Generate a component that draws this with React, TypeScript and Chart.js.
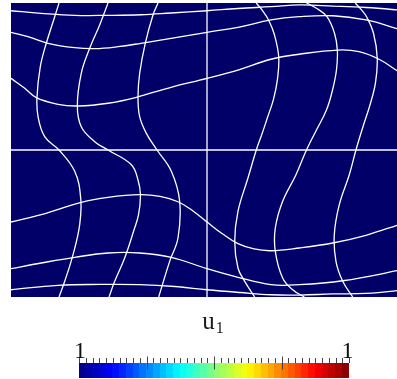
import { useEffect, useRef } from 'react';
import { Chart, registerables } from 'chart.js';

Chart.register(...registerables);

type Pt = [number, number];

// Domain of the field: x in [0, 4], y in [0, 3]
const xRange: Pt = [0, 4];
const yRange: Pt = [0, 3];

// Deformed mesh columns (undeformed x = 0.5, 1, 1.5, 2.5, 3, 3.5), top to bottom
const column05: Pt[] = [
  [0.49, 3.0], [0.446, 2.86], [0.36, 2.589], [0.299, 2.35], [0.265, 2.034], [0.276, 1.84],
  [0.344, 1.636], [0.49, 1.5], [0.65, 1.283], [0.711, 1.01], [0.701, 0.738], [0.633, 0.432],
  [0.548, 0.16], [0.49, 0.0],
];
const column10: Pt[] = [
  [0.99, 3.0], [0.905, 2.776], [0.803, 2.538], [0.717, 2.283], [0.677, 1.949], [0.717, 1.738],
  [0.854, 1.585], [0.99, 1.5], [1.228, 1.35], [1.296, 1.194], [1.321, 1.041], [1.301, 0.837],
  [1.255, 0.684], [1.16, 0.398], [1.058, 0.16], [1.0, 0.0],
];
const column15: Pt[] = [
  [1.5, 3.0], [1.449, 2.878], [1.37, 2.589], [1.313, 2.283], [1.296, 2.044], [1.313, 1.84],
  [1.381, 1.67], [1.49, 1.5], [1.636, 1.283], [1.721, 0.977], [1.704, 0.602], [1.619, 0.364],
  [1.507, 0.0],
];
const column25: Pt[] = [
  [2.503, 3.0], [2.561, 2.929], [2.628, 2.827], [2.689, 2.673], [2.732, 2.449], [2.719, 2.224],
  [2.679, 2.02], [2.612, 1.816], [2.561, 1.663], [2.503, 1.5], [2.418, 1.214], [2.316, 0.874],
  [2.283, 0.568], [2.316, 0.296], [2.385, 0.16], [2.487, 0.0],
];
const column30: Pt[] = [
  [3.015, 3.0], [3.112, 2.949], [3.224, 2.86], [3.301, 2.691], [3.33, 2.52], [3.321, 2.316],
  [3.281, 2.112], [3.219, 1.908], [3.117, 1.704], [3.015, 1.5], [2.908, 1.248], [2.772, 0.977],
  [2.697, 0.704], [2.697, 0.466], [2.772, 0.194], [2.874, 0.074], [2.993, 0.0],
];
const column35: Pt[] = [
  [3.513, 3.0], [3.577, 2.929], [3.628, 2.86], [3.699, 2.691], [3.737, 2.439], [3.719, 2.184],
  [3.663, 1.959], [3.597, 1.755], [3.52, 1.5], [3.452, 1.248], [3.35, 0.942], [3.299, 0.636],
  [3.316, 0.364], [3.385, 0.16], [3.487, 0.0],
];

// Deformed mesh rows, left to right
const row1: Pt[] = [
  [0, 2.921], [0.306, 2.895], [0.65, 2.874], [0.99, 2.874], [1.327, 2.88], [1.633, 2.898],
  [2.0, 2.921], [2.316, 2.944], [2.653, 2.962], [2.949, 2.98], [3.286, 2.969], [3.622, 2.954],
  [3.939, 2.929], [4.0, 2.921],
];
const row2: Pt[] = [
  [0, 2.701], [0.173, 2.656], [0.378, 2.589], [0.65, 2.544], [0.854, 2.534], [1.092, 2.554],
  [1.327, 2.589], [1.633, 2.64], [2.0, 2.701], [2.316, 2.752], [2.653, 2.827], [2.939, 2.86],
  [3.286, 2.87], [3.622, 2.827], [3.929, 2.742], [4.0, 2.714],
];
const row3: Pt[] = [
  [0, 2.231], [0.14, 2.13], [0.258, 2.034], [0.48, 1.966], [0.684, 1.949], [0.99, 1.977],
  [1.279, 2.038], [1.633, 2.14], [2.0, 2.231], [2.316, 2.316], [2.653, 2.426], [2.939, 2.477],
  [3.337, 2.52], [3.551, 2.503], [3.755, 2.426], [3.929, 2.316], [4.0, 2.265],
];
const row5: Pt[] = [
  [0, 0.765], [0.309, 0.84], [0.717, 0.966], [0.99, 1.017], [1.313, 1.044], [1.52, 1.026],
  [1.704, 0.972], [1.857, 0.878], [2.0, 0.765], [2.153, 0.648], [2.316, 0.544], [2.48, 0.49],
  [2.653, 0.472], [2.942, 0.5], [3.283, 0.551], [3.622, 0.63], [3.939, 0.732], [4.0, 0.755],
];
const row6: Pt[] = [
  [0, 0.289], [0.309, 0.347], [0.65, 0.405], [0.99, 0.449], [1.313, 0.449], [1.636, 0.405],
  [2.0, 0.289], [2.316, 0.201], [2.653, 0.126], [2.942, 0.126], [3.385, 0.166], [3.939, 0.268],
  [4.0, 0.286],
];
const row7: Pt[] = [
  [0, 0.074], [0.48, 0.119], [0.908, 0.128], [1.313, 0.126], [1.673, 0.107], [2.0, 0.074],
  [2.337, 0.046], [2.653, 0.023], [2.949, 0.02], [3.283, 0.031], [3.622, 0.036], [3.939, 0.064],
  [4.0, 0.077],
];

// Symmetry lines of the mesh stay straight
const centerColumn: Pt[] = [[2, 0], [2, 3]];
const centerRow: Pt[] = [[0, 1.5], [4, 1.5]];

const meshCurves: Pt[][] = [
  column05, column10, column15, column25, column30, column35,
  row1, row2, row3, row5, row6, row7,
];
const straightLines: Pt[][] = [centerColumn, centerRow];

// Colour bar: field name, end labels and tick layout
const fieldName = 'u';
const fieldIndex = '1';
const colorbarLabels = ['1', '1'];
const colorbarIntervals = 40;
const colorbarMajorEvery = 10;
const colorbarBands = 40;

const FIELD_COLOR = 'rgb(0,0,104)';
const SERIF = '"Liberation Serif", "DejaVu Serif", serif';

function jet(t: number): string {
  const c = (v: number) => Math.round(255 * Math.max(0, Math.min(1, v)));
  const r = c(1.5 - Math.abs(4 * t - 3));
  const g = c(1.5 - Math.abs(4 * t - 2));
  const b = c(1.5 - Math.abs(4 * t - 1));
  return `rgb(${r},${g},${b})`;
}

const fieldBackground = {
  id: 'fieldBackground',
  beforeDatasetsDraw(chart: Chart) {
    const { ctx, chartArea } = chart;
    ctx.save();
    ctx.fillStyle = FIELD_COLOR;
    ctx.fillRect(chartArea.left, chartArea.top, chartArea.right - chartArea.left, chartArea.bottom - chartArea.top);
    ctx.restore();
  },
};

const colorbar = {
  id: 'colorbar',
  afterDraw(chart: Chart) {
    const { ctx } = chart;
    const left = 79;
    const right = 349;
    const top = 363;
    const bottom = 378;
    const w = right - left;
    ctx.save();

    // title u_1
    ctx.fillStyle = '#1a1a1a';
    ctx.textBaseline = 'alphabetic';
    ctx.font = `25px ${SERIF}`;
    ctx.textAlign = 'left';
    const uw = ctx.measureText(fieldName).width;
    ctx.font = `16px ${SERIF}`;
    const iw = ctx.measureText(fieldIndex).width;
    const startX = 213 - (uw + 1 + iw) / 2;
    ctx.font = `25px ${SERIF}`;
    ctx.fillText(fieldName, startX, 328.5);
    ctx.font = `16px ${SERIF}`;
    ctx.fillText(fieldIndex, startX + uw + 1, 333);

    // colour bands
    for (let i = 0; i < colorbarBands; i++) {
      const x0 = left + (w * i) / colorbarBands;
      const x1 = left + (w * (i + 1)) / colorbarBands;
      ctx.fillStyle = jet((i + 0.5) / colorbarBands);
      ctx.fillRect(Math.floor(x0), top, Math.ceil(x1) - Math.floor(x0), bottom - top);
    }

    // ticks
    ctx.strokeStyle = '#444';
    ctx.lineWidth = 1;
    for (let i = 0; i <= colorbarIntervals; i++) {
      const x = Math.round(left + (w * i) / colorbarIntervals) + 0.5;
      const major = i % colorbarMajorEvery === 0 && i !== 0 && i !== colorbarIntervals;
      ctx.beginPath();
      ctx.moveTo(x, major ? 356.5 : 358);
      ctx.lineTo(x, major ? 369.5 : 363);
      ctx.stroke();
    }

    // end labels
    ctx.fillStyle = '#111';
    ctx.font = `24px ${SERIF}`;
    ctx.textAlign = 'center';
    ctx.fillText(colorbarLabels[0], left + 1, 357.5);
    ctx.fillText(colorbarLabels[1], right - 1.5, 357.5);
    ctx.restore();
  },
};

export default function App() {
  const canvasRef = useRef<HTMLCanvasElement | null>(null);

  useEffect(() => {
    if (!canvasRef.current) return;
    const datasets = [...meshCurves, ...straightLines].map((curve, i) => ({
      data: curve.map(([x, y]) => ({ x, y })),
      showLine: true,
      borderColor: '#ffffff',
      borderWidth: 1.3,
      pointRadius: 0,
      tension: i < meshCurves.length ? 0.4 : 0,
      fill: false,
    }));

    const chart = new Chart(canvasRef.current, {
      type: 'scatter',
      data: { datasets },
      options: {
        responsive: false,
        animation: false,
        devicePixelRatio: 1,
        layout: { padding: { left: 11, top: 3, right: 9, bottom: 82 } },
        scales: {
          x: { type: 'linear', min: xRange[0], max: xRange[1], display: false },
          y: { type: 'linear', min: yRange[0], max: yRange[1], display: false },
        },
        plugins: {
          legend: { display: false },
          tooltip: { enabled: false },
          title: { display: false },
        },
      },
      plugins: [fieldBackground, colorbar],
    });
    return () => chart.destroy();
  }, []);

  return (
    <div
      style={{
        position: 'fixed',
        left: 0,
        top: 0,
        width: 397,
        height: 379,
        overflow: 'hidden',
        background: '#fff',
      }}
    >
      <canvas ref={canvasRef} width={412} height={379} style={{ display: 'block' }} />
    </div>
  );
}
